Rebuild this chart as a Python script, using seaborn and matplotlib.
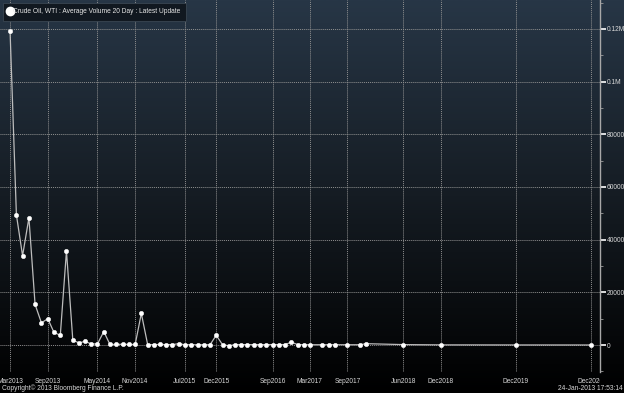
import numpy as np
import pandas as pd
import matplotlib
matplotlib.use("Agg")
import matplotlib.pyplot as plt
from matplotlib.lines import Line2D
from matplotlib.colors import LinearSegmentedColormap
from matplotlib.transforms import Bbox
import seaborn as sns

# ---- data ----
contract_months = [
    "2013-03", "2013-04", "2013-05", "2013-06", "2013-07", "2013-08", "2013-09", "2013-10", "2013-11", "2013-12",
    "2014-01", "2014-02", "2014-03", "2014-04", "2014-05", "2014-06", "2014-07", "2014-08", "2014-09", "2014-10",
    "2014-11", "2014-12",
    "2015-01", "2015-02", "2015-03", "2015-04", "2015-05", "2015-06", "2015-07", "2015-08", "2015-09", "2015-10",
    "2015-11", "2015-12",
    "2016-01", "2016-02", "2016-03", "2016-04", "2016-05", "2016-06", "2016-07", "2016-08", "2016-09", "2016-10",
    "2016-11", "2016-12",
    "2017-01", "2017-02", "2017-03", "2017-05", "2017-06", "2017-07", "2017-09", "2017-11", "2017-12",
    "2018-06", "2018-12", "2019-12", "2020-12",
]
avg_volume = [
    119300, 49400, 33900, 48300, 15400, 8400, 10000, 4800, 3700, 35700,
    1800, 800, 1400, 400, 400, 5100, 200, 200, 300, 200,
    200, 12000,
    100, 150, 200, 150, 150, 500, 100, 100, 100, 100,
    100, 3700,
    100, -300, 150, 150, 150, 150, 150, 150, 150, 150,
    150, 1100,
    150, 100, 100, 100, 100, 100, 100, 100, 500,
    150, 50, 20, 10,
]
xtick_months = ["2013-03", "2013-09", "2014-05", "2014-11", "2015-07", "2015-12", "2016-09",
                "2017-03", "2017-09", "2018-06", "2018-12", "2019-12", "2020-12"]
xtick_labels = ["Mar2013", "Sep2013", "May2014", "Nov2014", "Jul2015", "Dec2015", "Sep2016",
                "Mar2017", "Sep2017", "Jun2018", "Dec2018", "Dec2019", "Dec2020"]
ytick_values = [0, 20000, 40000, 60000, 80000, 100000, 120000]
ytick_labels = ["0", "20000", "40000", "60000", "80000", "0.1M", "0.12M"]
series_name = "Crude Oil, WTI : Average Volume 20 Day : Latest Update"

df = pd.DataFrame({"month": pd.to_datetime(contract_months), "volume": avg_volume})

# ---- figure ----
W, H = 624, 393
fig = plt.figure(figsize=(W / 100, H / 100), dpi=100)
fig.patch.set_facecolor("black")

# background gradient
bg = fig.add_axes([0, 0, 1, 1], zorder=0)
cmap = LinearSegmentedColormap.from_list("bb", ["#273646", "#151c23", "#000000"])
grad = np.linspace(0, 1, 256).reshape(-1, 1)
bg.imshow(grad, aspect="auto", cmap=cmap, extent=[0, 1, 0, 1], origin="upper")
bg.set_axis_off()

font = "Liberation Sans"
txtc = "#d8d8d8"
fs = 4.8

ax = fig.add_axes([0, 1 - 372 / H, 600 / W, 372 / H], zorder=1)
ax.set_facecolor("none")

sns.lineplot(data=df, x="month", y="volume", ax=ax, color="#bdbdbd", linewidth=0.9,
             marker="o", markersize=3.2, markerfacecolor="white", markeredgecolor="white",
             markeredgewidth=0.3, legend=False, zorder=3)

x0 = pd.Timestamp("2013-03-01")
ax.set_xlim(x0 - pd.Timedelta(days=49), pd.Timestamp("2020-12-01") + pd.Timedelta(days=44))
ax.set_ylim(-10250, 131000)

ax.set_xticks(pd.to_datetime(xtick_months))
ax.set_xticklabels(xtick_labels, fontsize=fs, color=txtc, family=font)
ax.tick_params(axis="x", length=0, pad=4)

ax.yaxis.tick_right()
ax.set_yticks(ytick_values)
ax.set_yticklabels(ytick_labels, fontsize=fs, color=txtc, family=font)
ax.set_yticks(np.arange(-10000, 131000, 10000), minor=True)
ax.tick_params(axis="y", which="major", direction="out", length=4, width=1.2, color="white", pad=1)
ax.tick_params(axis="y", which="minor", direction="out", length=2, width=0.6, color="#9a9a9a")
ax.set_xlabel("")
ax.set_ylabel("")

for s in ["top", "bottom", "left"]:
    ax.spines[s].set_visible(False)
ax.spines["right"].set_color("#a8a8a8")
ax.spines["right"].set_linewidth(1.0)

ax.grid(True, which="major", color="#909090", linestyle=(0, (1, 1)), linewidth=0.7)
ax.set_axisbelow(True)

# legend
handle = Line2D([], [], marker="o", linestyle="none", markersize=6.0,
                markerfacecolor="white", markeredgecolor="white")
leg = ax.legend([handle], [series_name], loc="upper left",
                bbox_to_anchor=(3 / 600, 1 - 3 / 372),
                frameon=True, fancybox=False, handlelength=0.5, handletextpad=0.2,
                borderpad=0.8, borderaxespad=0.0,
                prop={"family": font, "size": fs})
leg.get_frame().set_facecolor("#111820")
leg.get_frame().set_edgecolor("#3a4652")
leg.get_frame().set_linewidth(0.6)
leg.get_frame().set_alpha(1)
for t in leg.get_texts():
    t.set_color("#e6e6e6")

# footer text
fig.text(2 / W, 1 - 388 / H, "Copyright\u00a9 2013 Bloomberg Finance L.P.", fontsize=fs,
         color=txtc, family=font, ha="left", va="center")
fig.text(623 / W, 1 - 388 / H, "24-Jan-2013 17:53:14", fontsize=fs,
         color=txtc, family=font, ha="right", va="center")

# clip last x label at axis edge
fig.canvas.draw()
clipbox = Bbox.from_extents(0, 0, 600, H)
for lab in ax.get_xticklabels():
    lab.set_clip_box(clipbox)
    lab.set_clip_on(True)

fig.savefig("out.png", dpi=100, facecolor=fig.get_facecolor())
